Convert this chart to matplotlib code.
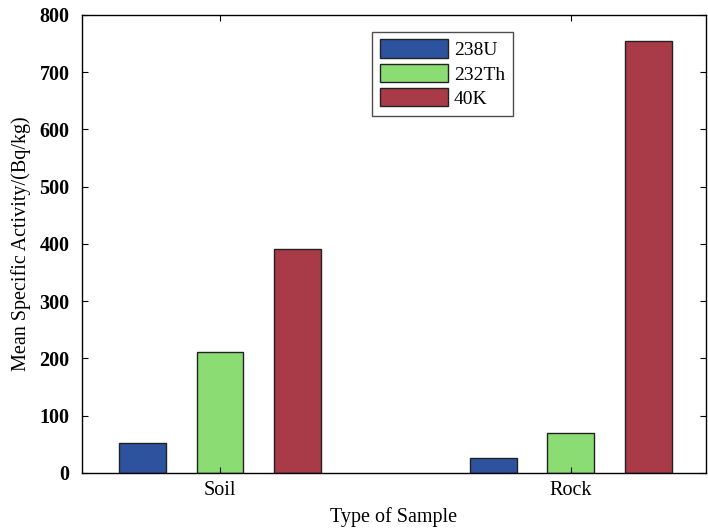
import numpy as np
import matplotlib.pyplot as plt

plt.rcParams['font.family'] = ['Liberation Serif', 'DejaVu Serif']

samples = ['Soil', 'Rock']
nuclides = ['238U', '232Th', '40K']
u238 = [52, 26]
th232 = [212, 70]
k40 = [392, 754]
colors = ['#2d539e', '#8cdc74', '#a83b47']

fig = plt.figure(figsize=(7.08, 5.28), dpi=100)
ax = fig.add_axes([0.1158, 0.1042, 0.881, 0.8674])

x = np.arange(1, len(samples) + 1)
width = 0.133
offset = 0.221
for i, (vals, name) in enumerate(zip([u238, th232, k40], nuclides)):
    ax.bar(x + (i - 1) * offset, vals, width, color=colors[i],
           edgecolor='#222222', linewidth=1.0, label=name)

ax.set_xlim(0.606, 2.385)
ax.set_ylim(0, 800)
ax.set_yticks(np.arange(0, 801, 100))
ax.set_xticks(x)
ax.set_xticklabels(samples, fontsize=14.5)
for lbl in ax.get_yticklabels():
    lbl.set_fontsize(14.5)
    lbl.set_fontweight('bold')
ax.tick_params(direction='in', top=True, right=True, length=4, width=0.8)
ax.tick_params(axis='y', pad=9)
ax.tick_params(axis='x', pad=6)
for s in ax.spines.values():
    s.set_linewidth(1.0)

ax.set_xlabel('Type of Sample', fontsize=14.5, labelpad=5)
ax.set_ylabel('Mean Specific Activity/(Bq/kg)', fontsize=14.5, labelpad=6)

leg = ax.legend(loc='upper left', bbox_to_anchor=(0.45, 0.985), fontsize=14,
                handlelength=3.5, handleheight=1.1, handletextpad=0.3,
                labelspacing=0.22, borderpad=0.4, frameon=True, fancybox=False)
leg.get_frame().set_edgecolor('#222222')
leg.get_frame().set_linewidth(1.0)

fig.savefig('out.png', dpi=100)
